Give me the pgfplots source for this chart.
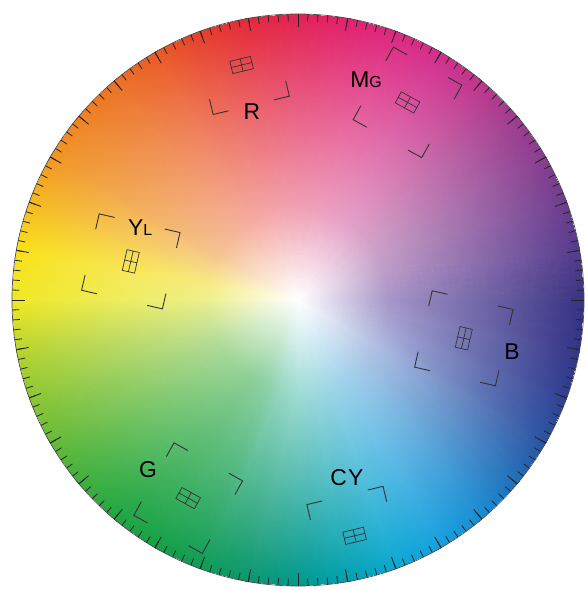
\begin{filecontents*}[overwrite]{tris.dat}
0 1 2
0 2 3
0 3 4
0 4 5
0 5 6
0 6 7
0 7 8
0 8 9
0 9 10
0 10 11
0 11 12
0 12 13
0 13 14
0 14 15
0 15 16
0 16 17
0 17 18
0 18 19
0 19 20
0 20 21
0 21 22
0 22 23
0 23 24
0 24 25
0 25 26
0 26 27
0 27 28
0 28 29
0 29 30
0 30 31
0 31 32
0 32 33
0 33 34
0 34 35
0 35 36
0 36 1
\end{filecontents*}
\begin{filecontents*}[overwrite]{quads.dat}
1 2 38 37
2 3 39 38
3 4 40 39
4 5 41 40
5 6 42 41
6 7 43 42
7 8 44 43
8 9 45 44
9 10 46 45
10 11 47 46
11 12 48 47
12 13 49 48
13 14 50 49
14 15 51 50
15 16 52 51
16 17 53 52
17 18 54 53
18 19 55 54
19 20 56 55
20 21 57 56
21 22 58 57
22 23 59 58
23 24 60 59
24 25 61 60
25 26 62 61
26 27 63 62
27 28 64 63
28 29 65 64
29 30 66 65
30 31 67 66
31 32 68 67
32 33 69 68
33 34 70 69
34 35 71 70
35 36 72 71
36 1 37 72
\end{filecontents*}
\documentclass[border=0pt]{standalone}
\usepackage{pgfplots}
\pgfplotsset{compat=1.18}
\usepackage{pgfplotstable}
\usepgfplotslibrary{patchplots}
\usepackage{fontspec}
\newfontfamily\lab{Liberation Sans}

% rim colours (read off the picture) at 0,10,...,350 degrees
\definecolor{r0}{RGB}{55,50,130}
\definecolor{r1}{RGB}{85,58,140}
\definecolor{r2}{RGB}{110,60,142}
\definecolor{r3}{RGB}{135,60,142}
\definecolor{r4}{RGB}{160,58,142}
\definecolor{r5}{RGB}{190,52,140}
\definecolor{r6}{RGB}{210,45,140}
\definecolor{r7}{RGB}{222,38,128}
\definecolor{r8}{RGB}{225,32,108}
\definecolor{r9}{RGB}{226,32,82}
\definecolor{r10}{RGB}{228,40,58}
\definecolor{r11}{RGB}{230,62,42}
\definecolor{r12}{RGB}{234,90,36}
\definecolor{r13}{RGB}{236,112,35}
\definecolor{r14}{RGB}{238,130,35}
\definecolor{r15}{RGB}{242,150,35}
\definecolor{r16}{RGB}{245,185,30}
\definecolor{r17}{RGB}{250,225,25}
\definecolor{r18}{RGB}{240,232,35}
\definecolor{r19}{RGB}{185,212,45}
\definecolor{r20}{RGB}{140,198,50}
\definecolor{r21}{RGB}{100,186,55}
\definecolor{r22}{RGB}{60,175,60}
\definecolor{r23}{RGB}{30,165,65}
\definecolor{r24}{RGB}{20,160,70}
\definecolor{r25}{RGB}{15,155,85}
\definecolor{r26}{RGB}{10,150,110}
\definecolor{r27}{RGB}{0,152,140}
\definecolor{r28}{RGB}{0,160,175}
\definecolor{r29}{RGB}{10,168,210}
\definecolor{r30}{RGB}{20,160,222}
\definecolor{r31}{RGB}{22,140,210}
\definecolor{r32}{RGB}{30,110,185}
\definecolor{r33}{RGB}{40,82,162}
\definecolor{r34}{RGB}{45,62,145}
\definecolor{r35}{RGB}{50,52,135}
% colours at 0.32 of the radius
\definecolor{i0}{RGB}{165,150,200}
\definecolor{i1}{RGB}{178,152,200}
\definecolor{i2}{RGB}{190,156,200}
\definecolor{i3}{RGB}{200,160,200}
\definecolor{i4}{RGB}{212,160,200}
\definecolor{i5}{RGB}{222,160,200}
\definecolor{i6}{RGB}{230,160,200}
\definecolor{i7}{RGB}{235,160,192}
\definecolor{i8}{RGB}{238,160,186}
\definecolor{i9}{RGB}{240,160,180}
\definecolor{i10}{RGB}{242,163,173}
\definecolor{i11}{RGB}{244,166,166}
\definecolor{i12}{RGB}{245,170,160}
\definecolor{i13}{RGB}{245,178,155}
\definecolor{i14}{RGB}{245,186,150}
\definecolor{i15}{RGB}{245,195,145}
\definecolor{i16}{RGB}{247,215,140}
\definecolor{i17}{RGB}{248,235,130}
\definecolor{i18}{RGB}{238,240,140}
\definecolor{i19}{RGB}{215,232,145}
\definecolor{i20}{RGB}{195,225,150}
\definecolor{i21}{RGB}{175,218,150}
\definecolor{i22}{RGB}{160,214,150}
\definecolor{i23}{RGB}{150,210,150}
\definecolor{i24}{RGB}{140,206,150}
\definecolor{i25}{RGB}{140,208,165}
\definecolor{i26}{RGB}{150,215,195}
\definecolor{i27}{RGB}{160,220,212}
\definecolor{i28}{RGB}{160,218,222}
\definecolor{i29}{RGB}{160,214,230}
\definecolor{i30}{RGB}{160,210,235}
\definecolor{i31}{RGB}{165,203,232}
\definecolor{i32}{RGB}{170,195,228}
\definecolor{i33}{RGB}{175,188,225}
\definecolor{i34}{RGB}{170,172,215}
\definecolor{i35}{RGB}{167,160,207}
\colorlet{grat}{black!80}

\pgfplotstableread{
x y c
0 0 color=white
0.32 0 color=i0
0.3151 0.0556 color=i1
0.3007 0.1094 color=i2
0.2771 0.16 color=i3
0.2451 0.2057 color=i4
0.2057 0.2451 color=i5
0.16 0.2771 color=i6
0.1094 0.3007 color=i7
0.0556 0.3151 color=i8
0 0.32 color=i9
-0.0556 0.3151 color=i10
-0.1094 0.3007 color=i11
-0.16 0.2771 color=i12
-0.2057 0.2451 color=i13
-0.2451 0.2057 color=i14
-0.2771 0.16 color=i15
-0.3007 0.1094 color=i16
-0.3151 0.0556 color=i17
-0.32 0 color=i18
-0.3151 -0.0556 color=i19
-0.3007 -0.1094 color=i20
-0.2771 -0.16 color=i21
-0.2451 -0.2057 color=i22
-0.2057 -0.2451 color=i23
-0.16 -0.2771 color=i24
-0.1094 -0.3007 color=i25
-0.0556 -0.3151 color=i26
0 -0.32 color=i27
0.0556 -0.3151 color=i28
0.1094 -0.3007 color=i29
0.16 -0.2771 color=i30
0.2057 -0.2451 color=i31
0.2451 -0.2057 color=i32
0.2771 -0.16 color=i33
0.3007 -0.1094 color=i34
0.3151 -0.0556 color=i35
1 0 color=r0
0.9848 0.1736 color=r1
0.9397 0.3420 color=r2
0.8660 0.5 color=r3
0.7660 0.6428 color=r4
0.6428 0.7660 color=r5
0.5 0.8660 color=r6
0.3420 0.9397 color=r7
0.1736 0.9848 color=r8
0 1 color=r9
-0.1736 0.9848 color=r10
-0.3420 0.9397 color=r11
-0.5 0.8660 color=r12
-0.6428 0.7660 color=r13
-0.7660 0.6428 color=r14
-0.8660 0.5 color=r15
-0.9397 0.3420 color=r16
-0.9848 0.1736 color=r17
-1 0 color=r18
-0.9848 -0.1736 color=r19
-0.9397 -0.3420 color=r20
-0.8660 -0.5 color=r21
-0.7660 -0.6428 color=r22
-0.6428 -0.7660 color=r23
-0.5 -0.8660 color=r24
-0.3420 -0.9397 color=r25
-0.1736 -0.9848 color=r26
0 -1 color=r27
0.1736 -0.9848 color=r28
0.3420 -0.9397 color=r29
0.5 -0.8660 color=r30
0.6428 -0.7660 color=r31
0.7660 -0.6428 color=r32
0.8660 -0.5 color=r33
0.9397 -0.3420 color=r34
0.9848 -0.1736 color=r35
}\verts

\newcommand\tbox{\draw[grat,line width=0.7pt] (-0.022,-0.037) rectangle (0.022,0.037) (-0.022,0)--(0.022,0) (0,-0.037)--(0,0.037);}
\newcommand\brk[2]{\draw[grat,line width=0.9pt] ({#1*0.145-#1*0.055},{#2*0.137}) -- ({#1*0.145},{#2*0.137}) -- ({#1*0.145},{#2*0.137-#2*0.055});}
\newcommand\lbig{\fontsize{23}{23}\selectfont}
\newcommand\lsml{\fontsize{16}{16}\selectfont}

\begin{document}
\begin{tikzpicture}
\begin{axis}[
  width=588bp, height=590bp, scale only axis,
  hide axis,
  xmin=-1.04196, xmax=1.01399,
  ymin=-1.01399, ymax=1.04895,
]
\addplot[patch, patch type=triangle, shader=interp, mesh/color input=explicit,
  patch table={tris.dat}] table[x=x, y=y, meta=c] {\verts};
\addplot[patch, patch type=rectangle, shader=interp, mesh/color input=explicit,
  patch table={quads.dat}] table[x=x, y=y, meta=c] {\verts};

\draw[black!70, line width=0.7pt] (axis cs:0,0) circle [radius=286bp];
\pgfplotsinvokeforeach{0,2,...,358}{
  \draw[black!85, line width=0.8pt] (axis cs:{cos(#1)},{sin(#1)}) -- (axis cs:{0.975*cos(#1)},{0.975*sin(#1)});
}
\pgfplotsinvokeforeach{0,10,...,350}{
  \draw[black!85, line width=0.9pt] (axis cs:{cos(#1)},{sin(#1)}) -- (axis cs:{0.956*cos(#1)},{0.956*sin(#1)});
}

% targets: R
\begin{scope}[shift={(axis cs:{0.845*cos(103.5)},{0.845*sin(103.5)})}, rotate=103.5, x=286bp, y=286bp]
\tbox \brk{-1}{1} \brk{-1}{-1}
\end{scope}
% MG
\begin{scope}[shift={(axis cs:{0.79*cos(61)},{0.79*sin(61)})}, rotate=61, x=286bp, y=286bp]
\tbox \brk{-1}{1} \brk{-1}{-1} \brk{1}{1} \brk{1}{-1}
\end{scope}
% B
\begin{scope}[shift={(axis cs:{0.595*cos(347)},{0.595*sin(347)})}, rotate=347, x=286bp, y=286bp]
\tbox \brk{-1}{1} \brk{-1}{-1} \brk{1}{1} \brk{1}{-1}
\end{scope}
% CY
\begin{scope}[shift={(axis cs:{0.848*cos(283.5)},{0.848*sin(283.5)})}, rotate=283.5, x=286bp, y=286bp]
\tbox \brk{-1}{1} \brk{-1}{-1}
\end{scope}
% G
\begin{scope}[shift={(axis cs:{0.792*cos(241)},{0.792*sin(241)})}, rotate=241, x=286bp, y=286bp]
\tbox \brk{-1}{1} \brk{-1}{-1} \brk{1}{1} \brk{1}{-1}
\end{scope}
% YL
\begin{scope}[shift={(axis cs:{0.6*cos(167)},{0.6*sin(167)})}, rotate=167, x=286bp, y=286bp]
\tbox \brk{-1}{1} \brk{-1}{-1} \brk{1}{1} \brk{1}{-1}
\end{scope}

\node[inner sep=0pt] at (axis cs:-0.161,0.657) {\lab\lbig R};
\node[inner sep=0pt] at (axis cs:0.238,0.769) {\lab\lbig M{\lsml G}};
\node[inner sep=0pt] at (axis cs:-0.552,0.252) {\lab\lbig Y{\lsml L}};
\node[inner sep=0pt] at (axis cs:0.748,-0.182) {\lab\lbig B};
\node[inner sep=0pt] at (axis cs:-0.524,-0.594) {\lab\lbig G};
\node[inner sep=0pt] at (axis cs:0.171,-0.622) {\lab\lbig C\kern1pt Y};
\end{axis}
\pgfresetboundingbox
\path (current axis.south west) rectangle (current axis.north east);
\end{tikzpicture}
\end{document}
